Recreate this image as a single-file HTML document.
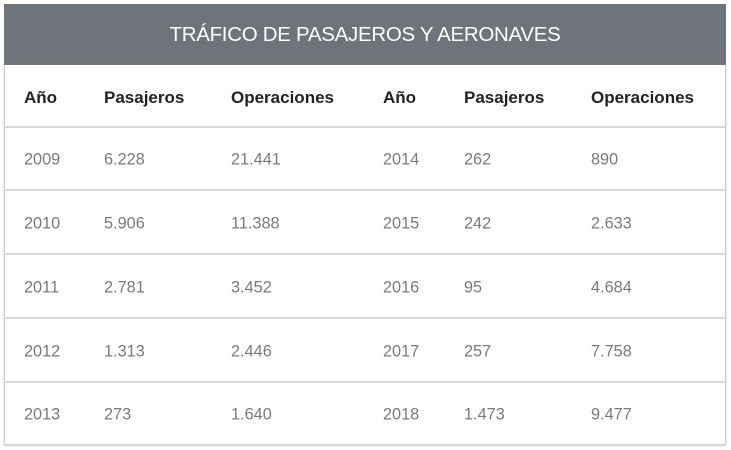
<!DOCTYPE html>
<html><head><meta charset="utf-8"><style>
body{margin:0;background:#fff;width:731px;height:450px;position:relative;font-family:"Liberation Sans",sans-serif;overflow:hidden}
.title{position:absolute;left:4px;top:4px;width:722px;height:61px;background:#6e747a;color:#fff;font-size:20.5px;line-height:62px;text-align:center;font-weight:300;letter-spacing:-0.3px}
.box{position:absolute;left:4px;top:65px;width:720px;height:379px;border:1px solid #ccc;border-top:none;box-shadow:0 1px 2px #ccc}
.line{position:absolute;left:4px;width:722px;height:2px;background:#d8d8d8}
.t{position:absolute;font-size:16.3px;color:#7a7a7a;transform:translateY(-50%)}
.h{color:#222;font-weight:bold;font-size:17px}
</style></head><body>
<div class="title">TRÁFICO DE PASAJEROS Y AERONAVES</div>
<div class="box"></div>
<div class="line" style="top:126px"></div>
<div class="line" style="top:189px"></div>
<div class="line" style="top:253px"></div>
<div class="line" style="top:317px"></div>
<div class="line" style="top:381px"></div>
<div class="t h" style="left:24px;top:98px">Año</div>
<div class="t h" style="left:104px;top:98px">Pasajeros</div>
<div class="t h" style="left:231px;top:98px">Operaciones</div>
<div class="t h" style="left:383px;top:98px">Año</div>
<div class="t h" style="left:464px;top:98px">Pasajeros</div>
<div class="t h" style="left:591px;top:98px">Operaciones</div>

<div class="t" style="left:24px;top:160px">2009</div><div class="t" style="left:104px;top:160px">6.228</div><div class="t" style="left:231px;top:160px">21.441</div><div class="t" style="left:383px;top:160px">2014</div><div class="t" style="left:464px;top:160px">262</div><div class="t" style="left:591px;top:160px">890</div>
<div class="t" style="left:24px;top:224px">2010</div><div class="t" style="left:104px;top:224px">5.906</div><div class="t" style="left:231px;top:224px">11.388</div><div class="t" style="left:383px;top:224px">2015</div><div class="t" style="left:464px;top:224px">242</div><div class="t" style="left:591px;top:224px">2.633</div>
<div class="t" style="left:24px;top:288px">2011</div><div class="t" style="left:104px;top:288px">2.781</div><div class="t" style="left:231px;top:288px">3.452</div><div class="t" style="left:383px;top:288px">2016</div><div class="t" style="left:464px;top:288px">95</div><div class="t" style="left:591px;top:288px">4.684</div>
<div class="t" style="left:24px;top:352px">2012</div><div class="t" style="left:104px;top:352px">1.313</div><div class="t" style="left:231px;top:352px">2.446</div><div class="t" style="left:383px;top:352px">2017</div><div class="t" style="left:464px;top:352px">257</div><div class="t" style="left:591px;top:352px">7.758</div>
<div class="t" style="left:24px;top:415px">2013</div><div class="t" style="left:104px;top:415px">273</div><div class="t" style="left:231px;top:415px">1.640</div><div class="t" style="left:383px;top:415px">2018</div><div class="t" style="left:464px;top:415px">1.473</div><div class="t" style="left:591px;top:415px">9.477</div>
</body></html>
